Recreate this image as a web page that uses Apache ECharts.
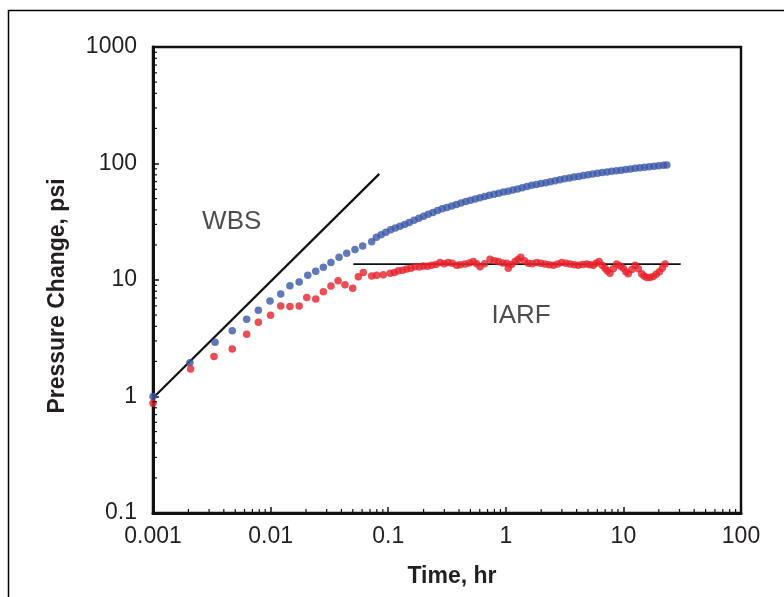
<!DOCTYPE html>
<html>
<head>
<meta charset="utf-8">
<script src="https://cdn.jsdelivr.net/npm/echarts@6/dist/echarts.min.js"></script>
<style>html,body{margin:0;padding:0;background:#fff}#c{width:784px;height:597px}</style>
</head>
<body>
<div id="c"></div>
<script>
// ---- data ----
const blueTime = [0.001,0.00206,0.00337,0.00472,0.00626,0.00787,0.00988,0.0122,0.0146,0.0175,0.0207,0.0242,0.0281,0.0326,0.0382,0.0444,0.0522,0.0607,0.0724,
  0.0794,0.0871,0.0955,0.105,0.115,0.126,0.138,0.151,0.166,0.182,0.200,0.219,0.240,0.263,0.288,0.316,0.347,0.380,0.417,0.457,
  0.501,0.550,0.603,0.661,0.724,0.794,0.871,0.955,1.047,1.148,1.259,1.380,1.514,1.660,1.820,1.995,2.188,2.399,2.630,2.884,
  3.162,3.467,3.802,4.169,4.571,5.012,5.495,6.026,6.607,7.244,7.943,8.710,9.550,10.47,11.48,12.59,13.80,15.14,16.60,18.20,
  19.95,21.88,23.4];
const bluePressure = [1.0,1.95,2.92,3.67,4.60,5.50,6.60,7.58,8.93,9.6,10.97,11.9,12.86,14.1,15.7,17.0,18.3,19.6,21.3,
  23.3,24.4,25.7,27.0,27.9,29.0,30.0,31.1,32.5,33.9,35.3,36.6,38.0,39.5,40.8,42.0,43.2,44.5,45.7,47.1,
  48.4,49.6,50.8,52.1,53.3,54.4,55.6,56.8,57.9,59.2,60.5,61.9,63.4,64.9,66.1,67.3,68.5,69.8,71.1,72.4,
  73.8,75.2,76.4,77.4,78.7,80.0,81.3,82.4,83.6,84.7,85.7,86.7,87.7,88.9,89.9,91.0,91.8,92.9,93.8,94.8,
  95.7,96.6,97.3];
const redTime = [0.001,0.00209,0.0033,0.00472,0.00626,0.00787,0.01,0.0122,0.0146,0.0175,0.0203,0.0242,0.0281,0.0326,0.0375,0.0429,0.0499,0.0557,0.0614,0.0724,
  0.0798,0.0908,0.104,0.113,0.122,0.133,0.144,0.156,0.169,0.184,0.199,0.216,0.234,0.255,0.276,0.30,0.324,0.35,0.382,0.41,0.45,0.49,0.529,0.565,0.604,0.66,0.734,0.80,0.864,0.94,
  1.02,1.05,1.12,1.20,1.27,1.34,1.44,1.55,1.68,1.83,1.98,2.15,2.34,2.54,2.76,2.99,3.25,3.52,3.82,4.14,4.5,4.88,5.2,5.55,5.85,6.21,6.6,6.98,7.3,7.69,8.2,8.77,9.4,9.98,
  10.5,11.0,11.8,12.6,13.4,14.3,15.0,15.8,16.8,17.9,19.0,20.2,21.4,22.6];
const redPressure = [0.875,1.72,2.20,2.56,3.42,4.34,4.98,5.98,5.92,5.98,7.09,6.87,7.94,8.88,9.86,9.1,8.49,10.67,11.6,10.8,
  11.0,11.1,11.4,11.6,12.0,12.1,12.4,12.6,13.0,12.9,13.2,13.1,13.4,13.6,14.1,13.8,14.1,13.9,13.4,13.5,13.7,14.0,14.4,13.8,13.0,13.8,15.1,14.6,14.4,14.0,
  13.9,12.6,13.6,14.4,15.0,15.7,14.6,13.9,13.8,14.1,13.9,13.7,13.5,13.4,13.7,14.1,13.9,13.7,13.5,13.4,13.6,13.7,13.5,13.4,13.9,14.4,13.4,12.6,12.0,11.4,12.5,13.7,13.2,12.6,
  11.8,11.3,12.3,13.4,12.5,11.3,10.8,10.5,10.5,10.7,11.2,11.8,12.6,13.7];
const wbsLine = [[0.001, 0.97], [0.084, 81.5]];
const iarfLine = [[0.0505, 13.7], [30.7, 13.7]];
const annotations = [{name: 'WBS', t: 0.00467, p: 31.6}, {name: 'IARF', t: 1.35, p: 4.9}];
const xTickLabels = ['0.001', '0.01', '0.1', '1', '10', '100'];
const yTickLabels = ['0.1', '1', '10', '100', '1000'];
const xDecades = [0.001, 0.01, 0.1, 1, 10];
const yDecades = [0.1, 1, 10, 100];
const minorMultipliers = [2, 3, 4, 5, 6, 7, 8, 9];

const X_MIN = 0.001, X_MAX = 100, Y_MIN = 0.1, Y_MAX = 1000;
const xMinor = [], yMinor = [];
xDecades.forEach(d => minorMultipliers.forEach(m => xMinor.push([d * m, Y_MIN])));
yDecades.forEach(d => minorMultipliers.forEach(m => yMinor.push([X_MIN, d * m])));

const FONT = '"Liberation Sans", Arial, Helvetica, sans-serif';
const TXT = '#231f20';

const chart = echarts.init(document.getElementById('c'), null, {renderer: 'canvas'});
chart.setOption({
  backgroundColor: '#fff',
  animation: false,
  graphic: [{
    type: 'rect', left: 6, top: 8, shape: {width: 800, height: 620},
    style: {fill: 'none', stroke: '#000', lineWidth: 1.5}, silent: true, z: -1
  }],
  grid: {left: 153, right: 43, top: 47, bottom: 84, show: true, borderColor: '#111', borderWidth: 2.5, backgroundColor: 'transparent'},
  xAxis: {
    type: 'log', logBase: 10, min: X_MIN, max: X_MAX, splitNumber: 6,
    name: 'Time, hr', nameLocation: 'middle', nameGap: 52,
    nameTextStyle: {fontFamily: FONT, fontSize: 23, fontWeight: 'bold', color: TXT, padding: [0, 0, 0, 10]},
    axisLine: {show: true, lineStyle: {color: '#111', width: 3}},
    axisTick: {show: true, inside: true, length: 6, lineStyle: {color: '#111', width: 1.5}},
    axisLabel: {margin: 12, fontFamily: FONT, fontSize: 23, color: TXT,
      formatter: v => xTickLabels[Math.round(Math.log10(v)) + 3]},
    splitLine: {show: false}
  },
  yAxis: {
    type: 'log', logBase: 10, min: Y_MIN, max: Y_MAX, splitNumber: 4,
    name: 'Pressure Change, psi', nameLocation: 'middle', nameGap: 84, nameRotate: 90,
    nameTextStyle: {fontFamily: FONT, fontSize: 23, fontWeight: 'bold', color: TXT, padding: [0, 32, 0, 0]},
    axisLine: {show: true, lineStyle: {color: '#111', width: 3}},
    axisTick: {show: true, inside: true, length: 6, lineStyle: {color: '#111', width: 1.5}},
    axisLabel: {margin: 16, fontFamily: FONT, fontSize: 23, color: TXT,
      formatter: v => yTickLabels[Math.round(Math.log10(v)) + 1]},
    splitLine: {show: false}
  },
  series: [
    {
      type: 'custom', silent: true, z: 5, clip: false,
      data: xMinor,
      renderItem: (params, api) => {
        const p = api.coord([api.value(0), api.value(1)]);
        return {type: 'line', shape: {x1: p[0], y1: p[1], x2: p[0], y2: p[1] - 4}, style: {stroke: '#111', lineWidth: 1.2}};
      }
    },
    {
      type: 'custom', silent: true, z: 5, clip: false,
      data: yMinor,
      renderItem: (params, api) => {
        const p = api.coord([api.value(0), api.value(1)]);
        return {type: 'line', shape: {x1: p[0], y1: p[1], x2: p[0] + 4, y2: p[1]}, style: {stroke: '#111', lineWidth: 1.2}};
      }
    },
    {
      type: 'line', data: wbsLine, symbol: 'none', silent: true,
      lineStyle: {color: '#111', width: 2.2}, z: 3
    },
    {
      type: 'line', data: iarfLine, symbol: 'none', silent: true,
      lineStyle: {color: '#111', width: 1.8}, z: 3
    },
    {
      type: 'scatter', symbol: 'circle', symbolSize: 7.5, silent: true, z: 4,
      itemStyle: {color: '#3a56a8'},
      data: blueTime.map((t, i) => [t, bluePressure[i]])
    },
    {
      type: 'scatter', symbol: 'circle', symbolSize: 7.5, silent: true, z: 4,
      itemStyle: {color: '#e8202a'},
      data: redTime.map((t, i) => [t, redPressure[i]])
    },
    {
      type: 'scatter', symbolSize: 1, silent: true, z: 6,
      itemStyle: {color: 'transparent'},
      label: {show: true, position: 'inside', formatter: '{b}', fontFamily: FONT, fontSize: 26, color: TXT},
      data: annotations.map(a => ({name: a.name, value: [a.t, a.p]}))
    }
  ]
});
</script>
</body>
</html>
